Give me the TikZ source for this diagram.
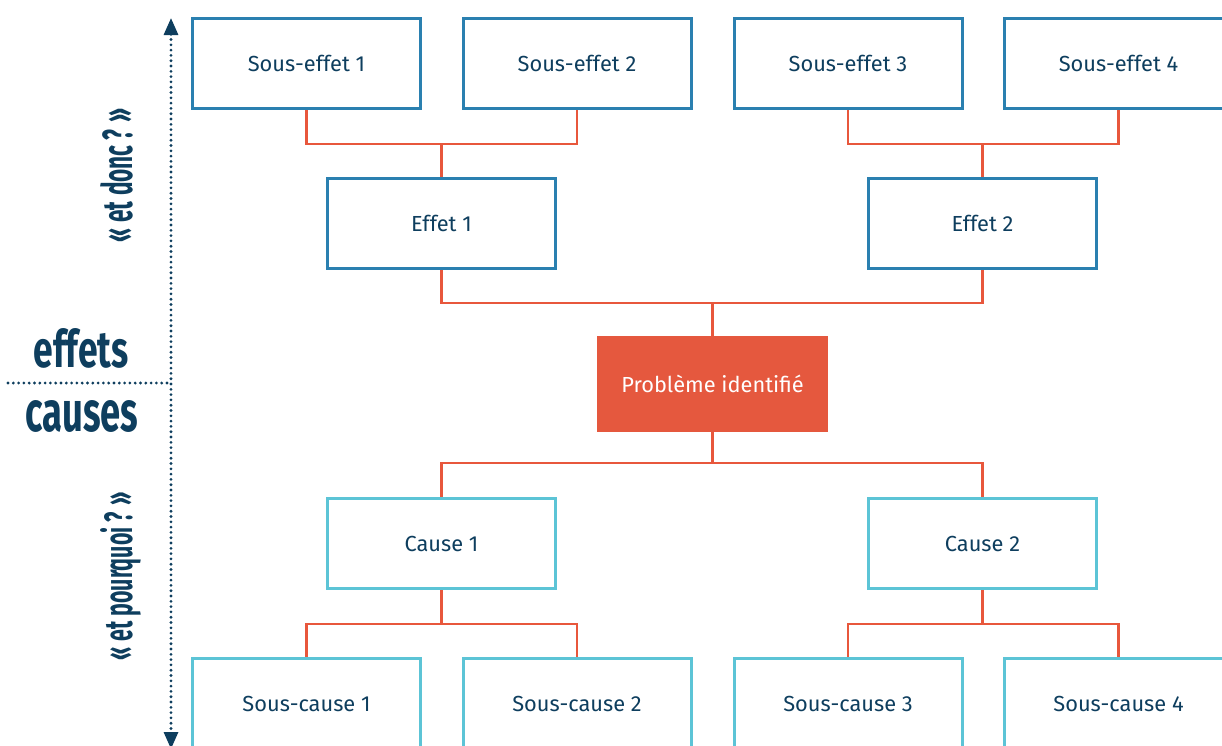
\documentclass[tikz,border=0pt]{standalone}
\usepackage{fontspec}
\setmainfont{Fira Sans}
\usetikzlibrary{arrows.meta,backgrounds}
\definecolor{navy}{HTML}{0E3E5E}
\definecolor{eblue}{HTML}{2A80B0}
\definecolor{ccyan}{HTML}{5CC4D6}
\definecolor{porange}{HTML}{E8573C}
\definecolor{pfill}{HTML}{E5583E}
\begin{document}
\begin{tikzpicture}[x=1pt,y=-1pt,
  box/.style={draw, fill=white, line width=3pt, minimum width=228pt, minimum height=90pt,
    inner sep=0pt, font=\fontsize{21.8}{24}\selectfont, text=navy},
  ebox/.style={box, draw=eblue},
  cbox/.style={box, draw=ccyan},
  pbox/.style={fill=pfill, minimum width=231pt, minimum height=96pt, inner sep=0pt,
    text=white, font=\fontsize{21.8}{24}\selectfont},
  conn/.style={draw=porange, line width=2.3pt},
  dotline/.style={draw=navy, line width=3.1pt, line cap=round, dash pattern=on 0pt off 5.3pt},
  bigtip/.tip={Triangle[length=17pt,width=14pt]},
  sidelabel/.style={text=navy, inner sep=0pt, anchor=base}]
\useasboundingbox (0,0) rectangle (1222,745);

% effects
\node[ebox] (se1) at (306.5,63.5) {Sous-effet 1};
\node[ebox] (se2) at (577,63.5) {Sous-effet 2};
\node[ebox] (se3) at (848,63.5) {Sous-effet 3};
\node[ebox] (se4) at (1118.5,63.5) {Sous-effet 4};
\node[ebox] (e1) at (441.5,223.5) {Effet 1};
\node[ebox] (e2) at (982.5,223.5) {Effet 2};
% problem
\node[pbox] (pb) at (712.5,384) {Problème identifié};
% causes
\node[cbox] (c1) at (441.5,543.5) {Cause 1};
\node[cbox] (c2) at (982.5,543.5) {Cause 2};
\node[cbox] (sc1) at (306.5,703.5) {Sous-cause 1};
\node[cbox] (sc2) at (577,703.5) {Sous-cause 2};
\node[cbox] (sc3) at (848,703.5) {Sous-cause 3};
\node[cbox] (sc4) at (1118.5,703.5) {Sous-cause 4};

\coordinate (jt1) at (441.5,144);
\coordinate (jt2) at (982.5,144);
\coordinate (jm) at (712.5,303);
\coordinate (jc) at (712.5,463);
\coordinate (jb1) at (441.5,624);
\coordinate (jb2) at (982.5,624);

\begin{scope}[on background layer]
\draw[conn] (se1.south) |- (jt1) -| (se2.south);
\draw[conn] (jt1) -- (e1.north);
\draw[conn] (se3.south) |- (jt2) -| (se4.south);
\draw[conn] (jt2) -- (e2.north);
\draw[conn] (e1.south) |- (jm) -| (e2.south);
\draw[conn] (jm) -- (pb.north);
\draw[conn] (c1.north) |- (jc) -| (c2.north);
\draw[conn] (pb.south) -- (jc);
\draw[conn] (sc1.north) |- (jb1) -| (sc2.north);
\draw[conn] (c1.south) -- (jb1);
\draw[conn] (sc3.north) |- (jb2) -| (sc4.north);
\draw[conn] (c2.south) -- (jb2);
\end{scope}

% left axis
\coordinate (atop) at (171,18);
\coordinate (abot) at (171,749);
\coordinate (hl) at (8,383);
\coordinate (hr) at (171,383);
\draw[dotline, bigtip-bigtip] (atop) -- (abot);
\draw[dotline] (hl) -- (hr);

\node[sidelabel] (eff) at (81,367) {\resizebox{95pt}{39pt}{\bfseries effets}};
\node[sidelabel] (cau) at (82,431) {\resizebox{113pt}{31pt}{\bfseries causes}};
\node[sidelabel, rotate=90] (donc) at (132,175) {\resizebox{134pt}{32pt}{\bfseries « et donc ? »}};
\node[sidelabel, rotate=90] (pourq) at (132,576) {\resizebox{168pt}{32pt}{\bfseries « et pourquoi ? »}};
\end{tikzpicture}
\end{document}
